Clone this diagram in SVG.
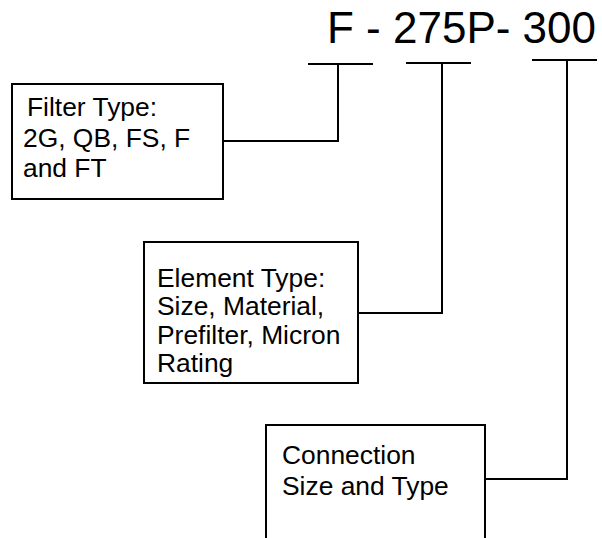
<svg xmlns="http://www.w3.org/2000/svg" width="602" height="538" viewBox="0 0 602 538">
<style>
.box{fill:#fff;stroke:#000;stroke-width:2}
.t{font-family:"Liberation Sans",Arial,sans-serif;font-size:26.4px;fill:#000}
.code{font-family:"Liberation Sans",Arial,sans-serif;font-size:44px;fill:#000}
.c{fill:none;stroke:#000;stroke-width:2}
</style>
<rect width="602" height="538" fill="#fff"/>
<g id="code"><text class="code" x="327" y="43" xml:space="preserve">F - 275P- 300</text></g>
<g id="connectors">
<line class="c" x1="308" y1="64" x2="373" y2="64"/>
<line class="c" x1="406" y1="63" x2="471" y2="63"/>
<line class="c" x1="532" y1="60" x2="597" y2="60"/>
<polyline class="c" points="223,141 338,141 338,64"/>
<polyline class="c" points="358,313 442,313 442,63"/>
<polyline class="c" points="485,479 567,479 567,60"/>
</g>
<g id="filter-type">
<rect class="box" x="12" y="84" width="211" height="115"/>
<text class="t" x="27" y="116">Filter Type:</text>
<text class="t" x="23" y="147">2G, QB, FS, F</text>
<text class="t" x="23" y="177">and FT</text>
</g>
<g id="element-type">
<rect class="box" x="144" y="242" width="214" height="141"/>
<text class="t" x="157" y="287">Element Type:</text>
<text class="t" x="157" y="315">Size, Material,</text>
<text class="t" x="157" y="344">Prefilter, Micron</text>
<text class="t" x="157" y="372">Rating</text>
</g>
<g id="connection">
<rect class="box" x="266" y="425" width="219" height="130"/>
<text class="t" x="282" y="464">Connection</text>
<text class="t" x="282" y="495">Size and Type</text>
</g>
</svg>
